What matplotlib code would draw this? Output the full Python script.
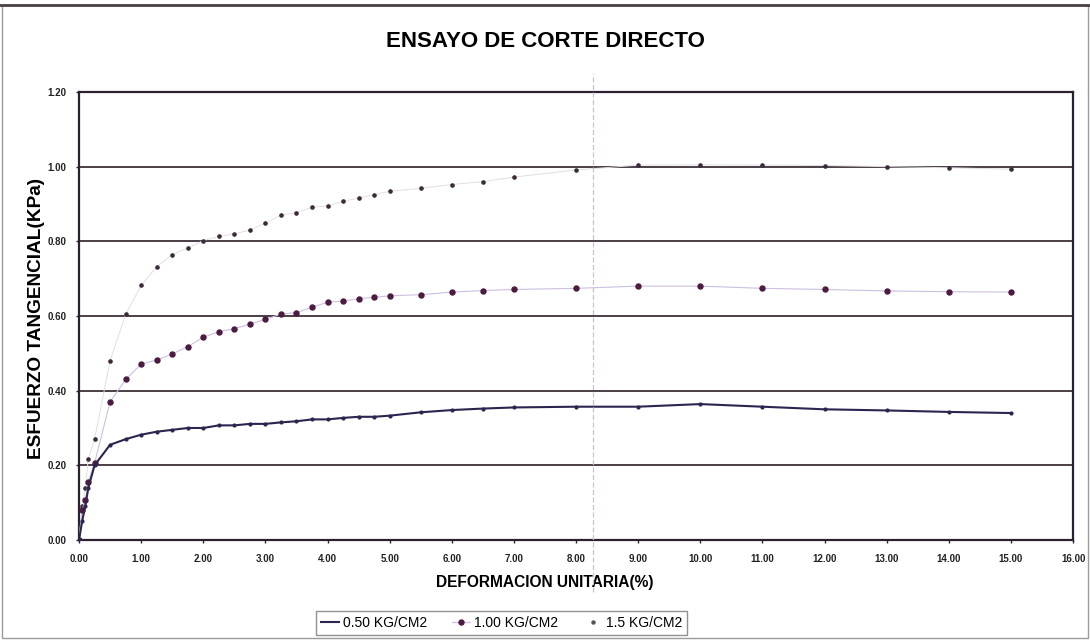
import numpy as np
import matplotlib
matplotlib.use("Agg")
import matplotlib.pyplot as plt
from matplotlib.lines import Line2D
from matplotlib.patches import Rectangle

plt.rcParams['font.family'] = ['Liberation Sans', 'DejaVu Sans']

# ---- datos del ensayo ----
deform = [0.0, 0.05, 0.10, 0.15, 0.25, 0.50, 0.75, 1.00, 1.25, 1.50, 1.75, 2.00,
          2.25, 2.50, 2.75, 3.00, 3.25, 3.50, 3.75, 4.00, 4.25, 4.50, 4.75, 5.00,
          5.50, 6.00, 6.50, 7.00, 8.00, 9.00, 10.00, 11.00, 12.00, 13.00, 14.00, 15.00]

esf_050 = [0.0, 0.05, 0.09, 0.14, 0.20, 0.255, 0.270, 0.282, 0.290, 0.295, 0.300, 0.300,
           0.307, 0.307, 0.311, 0.311, 0.315, 0.318, 0.323, 0.323, 0.327, 0.330, 0.330, 0.333,
           0.342, 0.348, 0.352, 0.355, 0.357, 0.357, 0.364, 0.357, 0.350, 0.347, 0.343, 0.340]

esf_100 = [0.0, 0.08, 0.107, 0.156, 0.206, 0.370, 0.430, 0.471, 0.482, 0.498, 0.518, 0.543,
           0.558, 0.566, 0.578, 0.591, 0.605, 0.609, 0.623, 0.637, 0.640, 0.646, 0.650, 0.654,
           0.657, 0.664, 0.668, 0.671, 0.674, 0.680, 0.680, 0.674, 0.671, 0.667, 0.665, 0.664]

esf_150 = [0.0, 0.09, 0.14, 0.218, 0.270, 0.480, 0.604, 0.682, 0.732, 0.764, 0.782, 0.802,
           0.813, 0.820, 0.830, 0.849, 0.870, 0.877, 0.891, 0.895, 0.907, 0.916, 0.925, 0.934,
           0.942, 0.952, 0.960, 0.972, 0.991, 1.004, 1.005, 1.004, 1.003, 1.000, 0.997, 0.993]

x_ticks = np.arange(0, 17, 1)
y_ticks = np.arange(0, 1.21, 0.2)

fig = plt.figure(figsize=(10.9, 6.44), dpi=100)
ax = fig.add_axes([0.0725, 0.1615, 0.912, 0.6957])

# lineas horizontales de division
for yv in y_ticks[1:-1]:
    ax.axhline(yv, color='#4a3f48', lw=1.4, zorder=1)

ax.plot(deform, esf_150, color='#e0e0e0', lw=0.7, marker='o', ms=2.3,
        mfc='#3b2a3a', mec='#3b2a3a', zorder=3, label='1.5 KG/CM2')
ax.plot(deform, esf_100, color='#cdbfe0', lw=0.8, marker='o', ms=3.6,
        mfc='#4b1c3f', mec='#4b1c3f', zorder=4, label='1.00 KG/CM2')
ax.plot(deform, esf_050, color='#2e2450', lw=1.5, marker='o', ms=2.0,
        mfc='#2e2450', mec='#2e2450', zorder=5, label='0.50 KG/CM2')

ax.set_xlim(0, 16)
ax.set_ylim(0, 1.2)
ax.set_xticks(x_ticks)
ax.set_xticklabels([f'{v:.2f}' for v in x_ticks])
ax.set_yticks(y_ticks)
ax.set_yticklabels([f'{v:.2f}' for v in y_ticks])
ax.tick_params(axis='both', labelsize=7, length=2, width=1, color='#2a2030')
ax.tick_params(axis='x', pad=8)
ax.tick_params(axis='y', pad=7)
for lbl in ax.get_xticklabels() + ax.get_yticklabels():
    lbl.set_fontweight('bold')
    lbl.set_color('#222222')
for s in ax.spines.values():
    s.set_color('#2a2030')
    s.set_linewidth(1.6)

ax.set_xlabel('DEFORMACION UNITARIA(%)', fontsize=11.2, fontweight='bold')
ax.xaxis.set_label_coords(0.468, -0.078)
ax.set_ylabel('ESFUERZO TANGENCIAL(KPa)', fontsize=13.7, fontweight='bold')
ax.yaxis.set_label_coords(-0.034, 0.495)
fig.text(0.5, 0.935, 'ENSAYO DE CORTE DIRECTO', ha='center', va='center',
         fontsize=16, fontweight='bold')

h = [Line2D([], [], color='#2e2450', lw=1.5),
     Line2D([], [], color='#cdbfe0', lw=0.9, marker='o', ms=3.6,
            mfc='#4b1c3f', mec='#4b1c3f'),
     Line2D([], [], color='none', marker='o', ms=2.2, mfc='#555', mec='#555')]
leg = fig.legend(h, ['0.50 KG/CM2', '1.00 KG/CM2', '1.5 KG/CM2'], loc='center',
                 bbox_to_anchor=(0.46, 0.033), ncol=3, fontsize=10, frameon=True,
                 fancybox=False, edgecolor='#777777', handlelength=1.3,
                 handletextpad=0.3, columnspacing=1.8, borderpad=0.35)
leg.get_frame().set_linewidth(1.0)

# marco exterior y pliegue del papel escaneado
fig.add_artist(Rectangle((0.002, 0.01), 0.996, 0.982, transform=fig.transFigure,
                         fill=False, edgecolor='#9a9a9a', lw=1.0))
fig.add_artist(Line2D([0.0, 1.0], [0.992, 0.992], transform=fig.transFigure,
                      color='#4a4048', lw=2.0))
fig.add_artist(Line2D([0.544, 0.544], [0.08, 0.885], transform=fig.transFigure,
                      color='#d2bcd2', lw=0.9, ls=(0, (4, 2))))

fig.savefig('out.png', dpi=100)
